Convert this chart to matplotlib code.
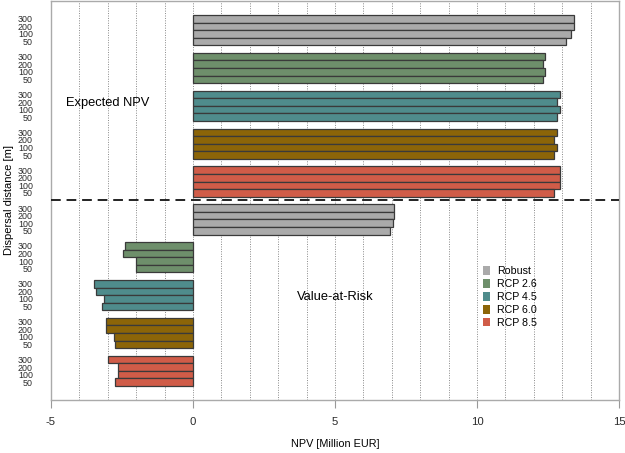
import numpy as np
import matplotlib
matplotlib.use("Agg")
import matplotlib.pyplot as plt
from matplotlib.patches import Patch

plt.rcParams["font.family"] = ["Liberation Sans", "DejaVu Sans"]

scenarios = ["Robust", "RCP 2.6", "RCP 4.5", "RCP 6.0", "RCP 8.5"]
colors = ["#aaaaaa", "#6e8f6b", "#4f8c8c", "#8c6508", "#d05c48"]
distances = ["300", "200", "100", "50"]

# expected NPV per scenario, distances 300, 200, 100, 50
npv_robust = [13.41, 13.41, 13.32, 13.12]
npv_rcp26 = [12.41, 12.31, 12.41, 12.31]
npv_rcp45 = [12.92, 12.82, 12.92, 12.82]
npv_rcp60 = [12.81, 12.72, 12.81, 12.72]
npv_rcp85 = [12.92, 12.92, 12.92, 12.72]

# value-at-risk
var_robust = [7.08, 7.06, 7.05, 6.95]
var_rcp26 = [-2.39, -2.48, -2.00, -2.00]
var_rcp45 = [-3.47, -3.42, -3.13, -3.19]
var_rcp60 = [-3.05, -3.07, -2.78, -2.73]
var_rcp85 = [-2.99, -2.64, -2.64, -2.73]

groups = [npv_robust, npv_rcp26, npv_rcp45, npv_rcp60, npv_rcp85,
          var_robust, var_rcp26, var_rcp45, var_rcp60, var_rcp85]

fig = plt.figure(figsize=(6.25, 4.53), dpi=100)
ax = fig.add_axes([0.0816, 0.117, 0.9088, 0.8808])

yticks, ylabels = [], []
for g, vals in enumerate(groups):
    pos = g * 5 + np.arange(4)
    ax.barh(pos, vals, height=1.0, color=colors[g % 5], edgecolor="#3a3a3a",
            linewidth=0.9, zorder=3)
    yticks += list(pos)
    ylabels += distances

ax.set_xlim(-5, 15)
ax.set_ylim(50.34, -2.34)
for x in range(-4, 15):
    ax.axvline(x, color="#888888", linestyle=(0, (1, 1.5)), linewidth=0.7, zorder=1)
ax.axhline(24, color="#222222", linestyle=(0, (5, 3)), linewidth=1.4, zorder=4)

ax.set_yticks(yticks)
ax.set_yticklabels(ylabels, fontsize=6.4, color="#2a2a2a")
ax.tick_params(axis="y", length=0, pad=13)
ax.set_xticks([-5, 0, 5, 10, 15])
ax.set_xticklabels(["-5", "0", "5", "10", "15"], fontsize=8.2, color="#2a2a2a")
ax.tick_params(axis="x", length=6, color="#999999", pad=6)
for s in ax.spines.values():
    s.set_color("#aaaaaa")
    s.set_linewidth(1.0)

ax.set_xlabel("NPV [Million EUR]", fontsize=7.8)
ax.xaxis.set_label_coords(0.5, -0.098)
ax.set_ylabel("Dispersal distance [m]", fontsize=8)
ax.yaxis.set_label_coords(-0.066, 0.5)

ax.text(-4.47, 11.1, "Expected NPV", fontsize=9.3, va="center", ha="left")
ax.text(3.65, 36.8, "Value-at-Risk", fontsize=9.3, va="center", ha="left")

handles = [Patch(facecolor=c, edgecolor="none") for c in colors]
ax.legend(handles, scenarios, loc="upper left", bbox_to_anchor=(0.76, 0.335),
          frameon=False, fontsize=7.7, handlelength=0.7, handleheight=0.9,
          handletextpad=0.65, labelspacing=0.25, borderaxespad=0, borderpad=0)

fig.savefig("out.png", dpi=100)
